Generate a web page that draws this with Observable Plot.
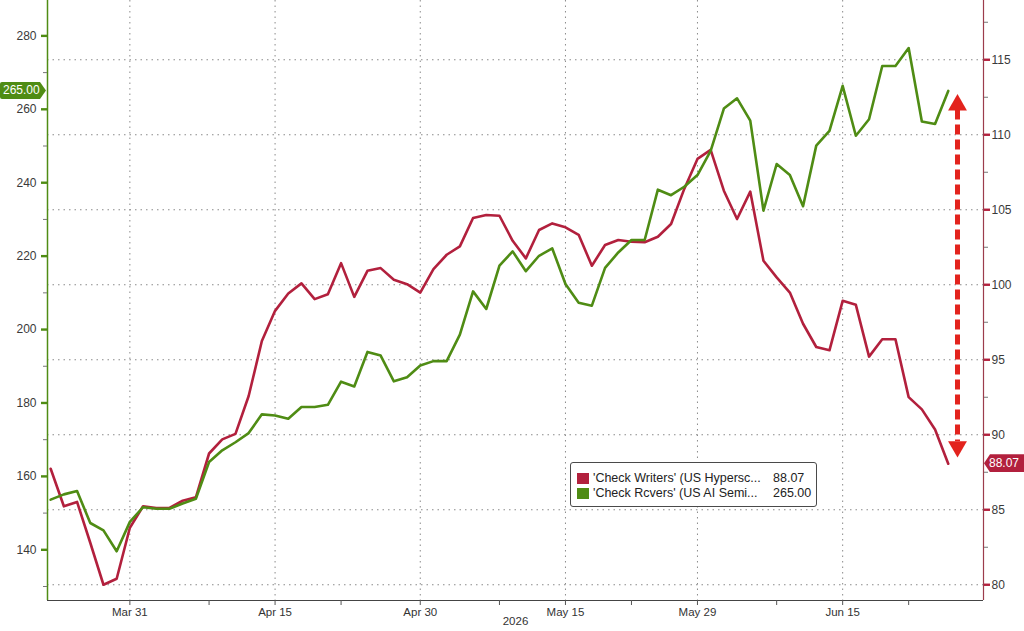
<!DOCTYPE html>
<html><head><meta charset="utf-8">
<script src="https://cdn.jsdelivr.net/npm/d3@7"></script>
<script src="https://cdn.jsdelivr.net/npm/@observablehq/plot@0.6"></script>
<style>
html,body{margin:0;padding:0;background:#fff;overflow:hidden}
#wrap{position:relative;width:1024px;height:631px;font-family:"Liberation Sans",Arial,sans-serif}
.tag{position:absolute;color:#fff;font-size:12px;height:17px;line-height:17px;white-space:nowrap}
#legend{position:absolute;left:570px;top:462px;width:247px;height:45px;border:1px solid #4a4a4a;border-radius:3px;background:#fff;font-size:12.5px;color:#222;box-sizing:border-box}
.row{position:absolute;left:6px;right:4px;height:15px;line-height:15px;white-space:nowrap}
.sw{position:absolute;left:0;top:2px;width:12px;height:11px}
.lab{position:absolute;left:16px}
.val{position:absolute;left:196px}
</style></head><body><div id="wrap"></div>
<script>
// ---- data ----
const seriesNames = ["'Check Writers' (US Hypersc...", "'Check Rcvers' (US AI Semi..."];
const writers = [87.73,85.23,85.52,82.8,80.0,80.4,83.8,85.23,85.12,85.12,85.6,85.83,88.75,89.69,90.06,92.58,96.25,98.26,99.42,100.09,
  99.04,99.37,101.44,99.19,100.93,101.11,100.33,100.04,99.48,101.04,102.0,102.56,104.45,104.65,104.6,102.93,101.76,103.65,104.09,103.83,
  103.33,101.27,102.65,102.98,102.87,102.83,103.2,104.05,106.39,108.39,108.99,106.27,104.38,106.21,101.6,100.49,99.48,97.4,95.85,95.63,
  98.93,98.66,95.21,96.37,96.37,92.51,91.69,90.35,88.07];
const rcvers = [153.66,155.1,156.0,147.3,145.3,139.6,147.6,151.6,151.2,151.2,152.6,153.9,163.9,167.1,169.3,171.8,176.9,176.6,175.7,178.9,
  178.9,179.5,185.8,184.5,193.9,192.9,185.9,187.0,190.2,191.4,191.4,198.6,210.4,205.6,217.4,221.3,215.9,220.1,222.1,212.4,
  207.3,206.5,216.8,221.0,224.4,224.4,238.1,236.6,238.9,242.1,248.7,260.2,263.0,256.9,232.4,245.1,242.1,233.6,250.1,254.1,
  266.4,252.8,257.3,271.8,271.8,276.7,256.7,256.0,265.0];
const tickIdx = [6,17,28,39,49,60];
const tickLabels = ["Mar 31","Apr 15","Apr 30","May 15","May 29","Jun 15"];
const minorIdx = [12,22,34,44,55,65];
const yearLabel = "2026";
const leftTicks = [140,160,180,200,220,240,260,280];
const leftMinor = [130,150,170,190,210,230,250,270];
const rightTicks = [80,85,90,95,100,105,110,115];
const rightMinor = [82.5,87.5,92.5,97.5,102.5,107.5,112.5,117.5];
const leftDomain = [126.19, 289.64];
const rightDomain = [78.95, 118.95];
const xDomain = [-0.24, 70.67];

// ---- styles ----
const red = "#b2203d", green = "#4f8c14", arrowRed = "#e3231d";
const toR = g => rightDomain[0] + (g - leftDomain[0]) * (rightDomain[1] - rightDomain[0]) / (leftDomain[1] - leftDomain[0]);
const fromR = r => leftDomain[0] + (r - rightDomain[0]) * (leftDomain[1] - leftDomain[0]) / (rightDomain[1] - rightDomain[0]);
const wData = writers.map((v, i) => ({i, v}));
const rData = rcvers.map((v, i) => ({i, v: toR(v)}));
const last = writers.length - 1;
const arrowData = [{x: last + 0.7, top: toR(rcvers[last]), bottom: writers[last]}];
const downTriangle = {draw(ctx, size) {
  const y = -Math.sqrt(size / (Math.sqrt(3) * 3));
  ctx.moveTo(0, -y * 2); ctx.lineTo(-Math.sqrt(3) * y, y); ctx.lineTo(Math.sqrt(3) * y, y); ctx.closePath();
}};

const plot = Plot.plot({
  width: 1024, height: 631,
  marginLeft: 47, marginRight: 41, marginTop: 0, marginBottom: 31,
  x: {type: "linear", domain: xDomain, axis: null, label: null},
  y: {domain: rightDomain, axis: null, label: null},
  style: {fontFamily: "'Liberation Sans', Arial, sans-serif", fontSize: "12px", background: "transparent", overflow: "visible"},
  marks: [
    Plot.ruleY(rightTicks, {stroke: "#8a8a8a", strokeDasharray: "1.5,4", strokeWidth: 1}),
    Plot.ruleX(tickIdx, {stroke: "#8a8a8a", strokeDasharray: "1.5,4", strokeWidth: 1}),
    // axis lines
    Plot.ruleX([xDomain[0]], {stroke: green, strokeWidth: 1.5}),
    Plot.ruleX([xDomain[1]], {stroke: "#9c3c4c", strokeWidth: 1.2}),
    Plot.ruleY([rightDomain[0]], {stroke: "#444", strokeWidth: 1.2}),
    // left axis (green series scale)
    Plot.axisY(leftMinor.map(toR), {anchor: "left", tickSize: 4, tickFormat: () => "", stroke: "#777", strokeWidth: 1}),
    Plot.axisY(leftTicks.map(toR), {anchor: "left", tickSize: 6, tickPadding: 5, strokeWidth: 2.4, stroke: green, fill: "#3a3a3a",
      fontSize: 12, tickFormat: d => String(Math.round(fromR(d)))}),
    // right axis
    Plot.axisY(rightMinor, {anchor: "right", tickSize: 4, tickFormat: () => "", stroke: "#777", strokeWidth: 1}),
    Plot.axisY(rightTicks, {anchor: "right", tickSize: 6, tickPadding: 2, strokeWidth: 2.4, stroke: red, fill: "#3a3a3a", fontSize: 12}),
    // bottom axis
    Plot.axisX(minorIdx, {anchor: "bottom", tickSize: 5, tickFormat: () => "", stroke: "#555"}),
    Plot.axisX(tickIdx, {anchor: "bottom", tickSize: 5, tickPadding: 2, stroke: "#555", fill: "#333", fontSize: 11.5,
      tickFormat: d => tickLabels[tickIdx.indexOf(d)], label: null}),
    Plot.text([yearLabel], {frameAnchor: "bottom", dy: 24, fill: "#333", fontSize: 11.5}),
    // series
    Plot.line(wData, {x: "i", y: "v", stroke: red, strokeWidth: 2.6}),
    Plot.line(rData, {x: "i", y: "v", stroke: green, strokeWidth: 2.6}),
    // annotation arrow
    Plot.ruleX(arrowData, {x: "x", y1: "top", y2: "bottom", stroke: arrowRed, strokeWidth: 5, strokeDasharray: "10,5", insetTop: 19, insetBottom: 22}),
    Plot.dot(arrowData, {x: "x", y: "top", dy: 14, r: 7, symbol: "triangle", fill: arrowRed, stroke: "none"}),
    Plot.dot(arrowData, {x: "x", y: "bottom", dy: -17, r: 7, symbol: downTriangle, fill: arrowRed, stroke: "none"})
  ]
});
const wrap = document.getElementById("wrap");
wrap.appendChild(plot);

// value tags and legend
const ys = plot.scale("y");
const gY = ys.apply(toR(rcvers[last]));
const rY = ys.apply(writers[last]);
const gTag = document.createElement("div");
gTag.className = "tag";
gTag.style.cssText = `left:0px;top:${gY - 8.5}px;width:46px;background:${green};clip-path:polygon(0 0,40px 0,46px 50%,40px 100%,0 100%);border-radius:2px 0 0 2px`;
gTag.innerHTML = `<span style="padding-left:3px">${rcvers[last].toFixed(2)}</span>`;
wrap.appendChild(gTag);
const rTag = document.createElement("div");
rTag.className = "tag";
rTag.style.cssText = `left:984px;top:${rY - 9}px;height:18px;line-height:18px;width:40px;background:${red};clip-path:polygon(0 50%,6px 0,100% 0,100% 100%,6px 100%)`;
rTag.innerHTML = `<span style="padding-left:5px">${writers[last].toFixed(2)}</span>`;
wrap.appendChild(rTag);

const legend = document.createElement("div");
legend.id = "legend";
const rows = [[red, seriesNames[0], writers[last].toFixed(2)], [green, seriesNames[1], rcvers[last].toFixed(2)]];
legend.innerHTML = rows.map((r, k) => `<div class="row" style="top:${8 + k * 15}px"><span class="sw" style="background:${r[0]}"></span><span class="lab">${r[1]}</span><span class="val">${r[2]}</span></div>`).join("");
wrap.appendChild(legend);
</script></body></html>
